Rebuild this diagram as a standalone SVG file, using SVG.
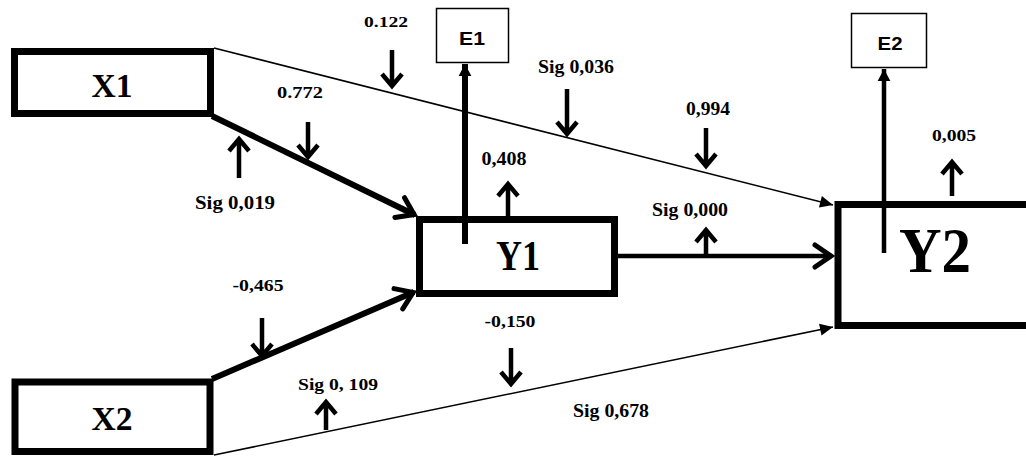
<svg xmlns="http://www.w3.org/2000/svg" width="1026" height="456" viewBox="0 0 1026 456">
<style>
.box{fill:#fff;stroke:#000;stroke-width:7}
.ebox{fill:#fff;stroke:#000;stroke-width:1.5}
.big{font-family:'Liberation Serif','Times New Roman',serif;font-weight:bold;fill:#000;text-anchor:middle}
.lbl{font-family:'Liberation Serif','Times New Roman',serif;font-weight:bold;fill:#000;text-anchor:middle}
.etx{font-family:'Liberation Sans',Arial,sans-serif;font-weight:bold;font-size:19px;fill:#000;text-anchor:middle}
.thick{stroke:#000;stroke-width:6;fill:none}
.mid{stroke:#000;stroke-width:4.5;fill:none}
.thin{stroke:#000;stroke-width:1.6;fill:none}
.ind{stroke:#000;stroke-width:4.5;fill:none;stroke-linejoin:miter}
</style>
<defs>
<marker id="chev" markerUnits="userSpaceOnUse" markerWidth="40" markerHeight="40" viewBox="-20 -20 40 40" refX="0" refY="0" orient="auto" overflow="visible">
<path d="M-17,-11 L-1,0 L-17,11" fill="none" stroke="#000" stroke-width="5" stroke-linecap="round"/>
</marker>
<marker id="tri" markerUnits="userSpaceOnUse" markerWidth="30" markerHeight="30" viewBox="-15 -15 30 30" refX="0" refY="0" orient="auto" overflow="visible">
<path d="M0,0 L-13,-6 L-13,6 Z" fill="#000"/>
</marker>
<marker id="trib" markerUnits="userSpaceOnUse" markerWidth="30" markerHeight="30" viewBox="-20 -20 40 40" refX="0" refY="0" orient="auto" overflow="visible">
<path d="M0,0 L-16,-8.5 L-16,8.5 Z" fill="#000"/>
</marker>
</defs>

<g id="connectors">
<line class="thin" x1="214" y1="48" x2="833" y2="205" marker-end="url(#tri)"/>
<line class="thin" x1="214" y1="455" x2="833" y2="327" marker-end="url(#tri)"/>
<line class="thick" x1="212" y1="116" x2="415" y2="215" marker-end="url(#chev)"/>
<line class="thick" x1="212" y1="379" x2="414" y2="292" marker-end="url(#chev)"/>
<line class="mid" x1="618" y1="256" x2="832" y2="256" marker-end="url(#chev)"/>
<line class="thick" x1="465" y1="244" x2="465" y2="64" marker-end="url(#trib)"/>
<line class="mid" x1="884" y1="253" x2="884" y2="69" marker-end="url(#trib)"/>
</g>

<g id="X1">
<rect class="box" x="14.5" y="51.5" width="196" height="62"/>
<text class="big" x="112" y="97" font-size="34" textLength="41" lengthAdjust="spacingAndGlyphs">X1</text>
</g>
<g id="X2">
<rect class="box" x="15" y="382" width="195" height="69.5"/>
<text class="big" x="112" y="430" font-size="34" textLength="41" lengthAdjust="spacingAndGlyphs">X2</text>
</g>
<g id="Y1">
<rect class="box" x="419.5" y="219.5" width="195" height="74"/>
<line class="thick" x1="465" y1="220" x2="465" y2="244"/>
<text class="big" x="518" y="270" font-size="42" textLength="44" lengthAdjust="spacingAndGlyphs">Y1</text>
</g>
<g id="Y2">
<rect class="box" x="838" y="204.5" width="210" height="121"/>
<line class="mid" x1="884" y1="205" x2="884" y2="253"/>
<text class="big" x="935" y="272" font-size="63" textLength="72" lengthAdjust="spacingAndGlyphs">Y2</text>
</g>
<g id="E1">
<rect class="ebox" x="436.5" y="8.5" width="72" height="54"/>
<text class="etx" x="472" y="45" textLength="26" lengthAdjust="spacingAndGlyphs">E1</text>
</g>
<g id="E2">
<rect class="ebox" x="851.5" y="13.5" width="75" height="54"/>
<text class="etx" x="890" y="50" textLength="25" lengthAdjust="spacingAndGlyphs">E2</text>
</g>

<g id="indicators">
<path class="ind" d="M392,50 V86 M382,74 L392,86 L402,74"/>
<path class="ind" d="M308,122 V157 M298,145 L308,157 L318,145"/>
<path class="ind" d="M239,178 V139 M229,151 L239,139 L249,151"/>
<path class="ind" d="M567,89 V134 M557,122 L567,134 L577,122"/>
<path class="ind" d="M706,128 V166 M696,154 L706,166 L716,154"/>
<path class="ind" d="M508,217 V184 M498,196 L508,184 L518,196"/>
<path class="ind" d="M706,254 V230 M696,242 L706,230 L716,242"/>
<path class="ind" d="M952,196 V162 M942,174 L952,162 L962,174"/>
<path class="ind" d="M262,318 V356 M252,344 L262,356 L272,344"/>
<path class="ind" d="M326,430 V402 M316,414 L326,402 L336,414"/>
<path class="ind" d="M511,348 V384 M501,372 L511,384 L521,372"/>
</g>

<g id="labels">
<text class="lbl" x="386" y="27" font-size="15" textLength="44" lengthAdjust="spacingAndGlyphs">0.122</text>
<text class="lbl" x="300" y="98" font-size="16" textLength="46" lengthAdjust="spacingAndGlyphs">0.772</text>
<text class="lbl" x="235" y="209" font-size="18" textLength="80" lengthAdjust="spacingAndGlyphs">Sig 0,019</text>
<text class="lbl" x="576" y="73" font-size="18" textLength="76" lengthAdjust="spacingAndGlyphs">Sig 0,036</text>
<text class="lbl" x="708" y="115" font-size="19" textLength="44" lengthAdjust="spacingAndGlyphs">0,994</text>
<text class="lbl" x="504" y="165" font-size="19" textLength="45" lengthAdjust="spacingAndGlyphs">0,408</text>
<text class="lbl" x="690" y="216" font-size="18" textLength="76" lengthAdjust="spacingAndGlyphs">Sig 0,000</text>
<text class="lbl" x="954" y="141" font-size="16" textLength="44" lengthAdjust="spacingAndGlyphs">0,005</text>
<text class="lbl" x="258" y="291" font-size="16" textLength="51" lengthAdjust="spacingAndGlyphs">-0,465</text>
<text class="lbl" x="338" y="390" font-size="16" textLength="80" lengthAdjust="spacingAndGlyphs">Sig 0, 109</text>
<text class="lbl" x="510" y="327" font-size="17" textLength="51" lengthAdjust="spacingAndGlyphs">-0,150</text>
<text class="lbl" x="611" y="417" font-size="18" textLength="76" lengthAdjust="spacingAndGlyphs">Sig 0,678</text>
</g>
</svg>
